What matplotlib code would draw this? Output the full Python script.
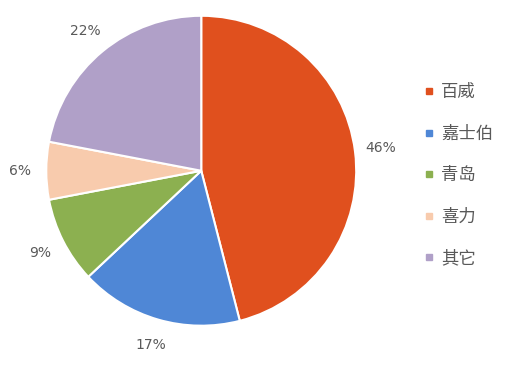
import matplotlib
matplotlib.use("Agg")
import matplotlib.pyplot as plt
from matplotlib.lines import Line2D

plt.rcParams['font.family'] = ['Noto Sans CJK SC', 'DejaVu Sans']

brands = ['百威', '嘉士伯', '青岛', '喜力', '其它']
shares = [46, 17, 9, 6, 22]
colors = ['#E0501E', '#4F87D6', '#8CB050', '#F8CBAD', '#B0A0C8']
text_gray = '#595959'

fig = plt.figure(figsize=(5.2, 3.66), dpi=100)
ax = fig.add_axes([0.089, 0.11, 0.596, 0.847])

wedges, texts = ax.pie(shares, colors=colors, startangle=90, counterclock=False,
                       wedgeprops=dict(edgecolor='white', linewidth=1.5),
                       labels=[str(s) + '%' for s in shares], labeldistance=1.17,
                       textprops=dict(color=text_gray, fontsize=10, family='DejaVu Sans'))
for t in texts:
    t.set_horizontalalignment('center')
    t.set_verticalalignment('center')
ax.set_xlim(-1, 1)
ax.set_ylim(-1, 1)
ax.set_aspect('equal')

handles = [Line2D([], [], marker='s', linestyle='none', markersize=4.5,
                  markerfacecolor=c, markeredgecolor=c) for c in colors]
leg = fig.legend(handles, brands, loc='upper left', bbox_to_anchor=(0.785, 0.815),
                 frameon=False, handlelength=0.6, handletextpad=0.4,
                 labelspacing=1.35, fontsize=12.5, labelcolor=text_gray)

fig.savefig('out.png', dpi=100)
